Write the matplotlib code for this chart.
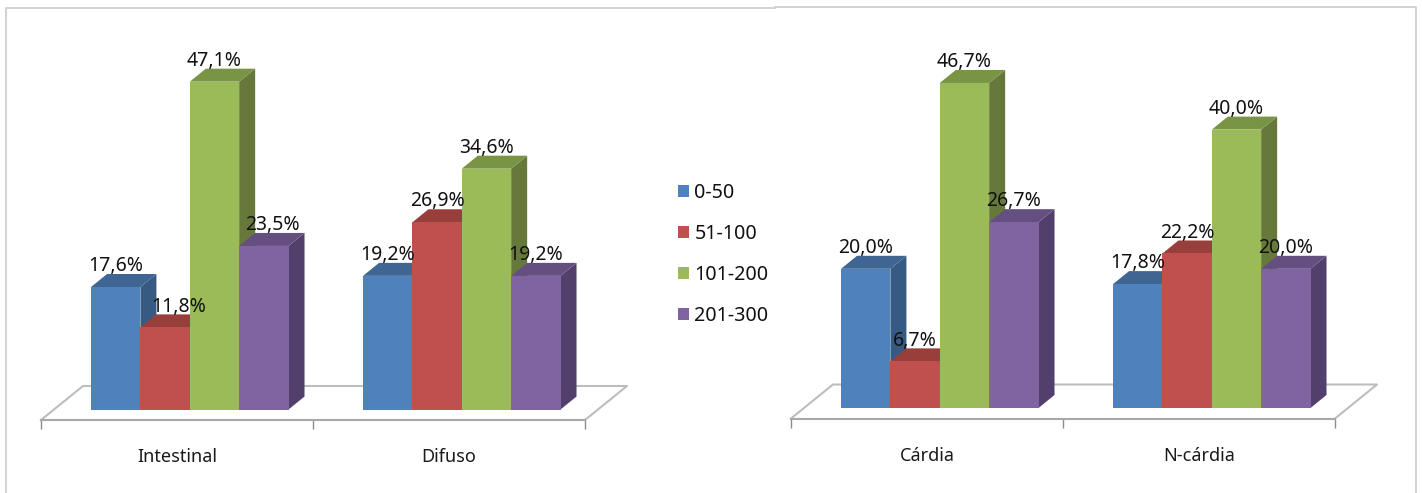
import matplotlib
matplotlib.use("Agg")
import matplotlib.pyplot as plt
from matplotlib.lines import Line2D
from matplotlib.patches import Patch, Polygon

plt.rcParams["font.family"] = ["Noto Sans", "DejaVu Sans"]

series_names = ["0-50", "51-100", "101-200", "201-300"]
front_colors = ["#4F81BD", "#C0504D", "#9BBB59", "#8064A2"]
top_colors = ["#3F6592", "#983F3C", "#7A9446", "#654F81"]
side_colors = ["#375A82", "#7F3532", "#66793A", "#533F6B"]

left_categories = ["Intestinal", "Difuso"]
left_values = [[17.6, 19.2], [11.8, 26.9], [47.1, 34.6], [23.5, 19.2]]
right_categories = ["Cárdia", "N-cárdia"]
right_values = [[20.0, 17.8], [6.7, 22.2], [46.7, 40.0], [26.7, 20.0]]

W, H = 1422, 493
LABEL_FONT = 14.0
TICK_FONT = 13.0
LEGEND_FONT = 14.2
BAR_W = 0.1815
BAR_START = 0.184
DEPTH_X = 16 / 272
DEPTH_Y = 13 / 6.96
FLOOR_X = 42 / 272
FLOOR_Y = 34 / 6.96
FLOOR_DROP = 10.5 / 6.96
YMAX = 50.0

fig = plt.figure(figsize=(W / 100, H / 100), dpi=100)

# Pixel-space layer holding the two panel outlines
frame = fig.add_axes([0, 0, 1, 1])
frame.set_xlim(0, W)
frame.set_ylim(H, 0)
frame.axis("off")
for xs, ys in [([6, 6, 775], [H, 8, 8]), ([775, 1416, 1416], [6.5, 6.5, H])]:
    frame.add_line(Line2D(xs, ys, color="#CFCFCF", lw=1.3))


def draw_panel(x0, x1, base_px, categories, values, nudges):
    scale = 6.96
    bottom_px = base_px + FLOOR_DROP * scale
    top_px = base_px - YMAX * scale
    ax = fig.add_axes([x0 / W, 1 - bottom_px / H, (x1 - x0) / W, (bottom_px - top_px) / H])
    ax.set_xlim(0, len(categories))
    ax.set_ylim(-FLOOR_DROP, YMAX)
    ax.patch.set_alpha(0)

    for name in ("top", "left", "right"):
        ax.spines[name].set_visible(False)
    ax.spines["bottom"].set_color("#A8A8A8")
    ax.spines["bottom"].set_linewidth(1.5)
    ax.set_yticks([])
    ax.set_xticks(range(len(categories) + 1))
    ax.set_xticklabels([])
    ax.tick_params(axis="x", which="major", length=6.5, width=1, color="#8C8C8C")
    ax.set_xticks([i + 0.5 for i in range(len(categories))], minor=True)
    ax.set_xticklabels(categories, minor=True, fontsize=TICK_FONT, color="#1A1A1A")
    ax.tick_params(axis="x", which="minor", length=0, pad=20.4)

    # Floor of the 3D plot area
    n = len(categories)
    floor_y = -FLOOR_DROP
    ax.add_line(Line2D([0, FLOOR_X, n + FLOOR_X, n],
                       [floor_y, floor_y + FLOOR_Y, floor_y + FLOOR_Y, floor_y],
                       color="#BDBDBD", lw=1.5, zorder=1, clip_on=False))

    z = 2
    for c in range(n):
        for s, series in enumerate(values):
            v = series[c]
            left = c + BAR_START + s * BAR_W
            right = left + BAR_W
            ax.bar(left, v, BAR_W, align="edge", color=front_colors[s], linewidth=0, zorder=z + 2)
            ax.add_patch(Polygon(
                [(right, 0), (right + DEPTH_X, DEPTH_Y), (right + DEPTH_X, v + DEPTH_Y), (right, v)],
                closed=True, fc=side_colors[s], lw=0, zorder=z + 1))
            ax.add_patch(Polygon(
                [(left, v), (left + DEPTH_X, v + DEPTH_Y), (right + DEPTH_X, v + DEPTH_Y), (right, v)],
                closed=True, fc=top_colors[s], lw=0, zorder=z + 1))
            z += 2

    # Percentage labels sit just above each bar's rear edge
    for c in range(n):
        for s, series in enumerate(values):
            v = series[c]
            shift = nudges.get((c, s), 0)
            ax.annotate(f"{v:.1f}%".replace(".", ","),
                        (c + BAR_START + (s + 0.5) * BAR_W, v + DEPTH_Y),
                        xytext=(shift * 0.72, 2.0), textcoords="offset points",
                        ha="center", va="baseline", fontsize=LABEL_FONT,
                        color="#111111", zorder=100, annotation_clip=False)
    return ax


draw_panel(41, 585, 409.5, left_categories, left_values, {(0, 1): 14, (0, 3): 9})
draw_panel(791, 1335, 408, right_categories, right_values, {})

handles = [Patch(fc=c, ec="none") for c in front_colors]
fig.legend(handles, series_names, loc="upper left",
           bbox_to_anchor=(678 / W, 1 - 183 / H), bbox_transform=fig.transFigure,
           frameon=False, fontsize=LEGEND_FONT, handlelength=0.56, handleheight=0.56,
           handletextpad=0.27, labelspacing=1.06, borderpad=0, borderaxespad=0,
           labelcolor="#111111")

fig.savefig("out.png", dpi=100)
